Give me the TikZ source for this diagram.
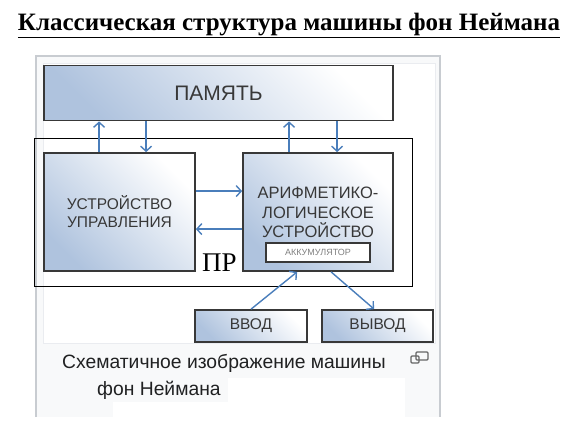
\documentclass[tikz,border=0pt]{standalone}
\usepackage{fontspec}
\setmainfont{Liberation Serif}
\setsansfont{Liberation Sans}
\usepackage{tikz}
\usetikzlibrary{arrows.meta,positioning}
\definecolor{sinij}{HTML}{4A7EBB}
\definecolor{goluboj}{HTML}{AFC3DE}
\definecolor{ramka}{HTML}{C8CCD1}
\definecolor{ramkasvetlaja}{HTML}{EAECF0}
\definecolor{fon}{HTML}{F8F9FA}
\definecolor{tekst}{HTML}{202122}
\definecolor{kontur}{HTML}{383838}
\tikzset{
  blok/.style={draw=kontur,line width=1.8pt,top color=white,bottom color=goluboj,shading angle=-45,align=center,inner sep=0pt,font=\sffamily\fontsize{15.5pt}{18pt}\selectfont,text=kontur},
  blokmalyj/.style={draw=kontur,line width=1.6pt,fill=white,inner sep=0pt,font=\sffamily\fontsize{9pt}{9pt}\selectfont,text=gray},
  ramkaproc/.style={draw=black,line width=1pt,inner sep=0pt},
  strelka/.style={-{Straight Barb[length=5pt,width=11pt]},line width=1.4pt,sinij},
  podpis/.style={font=\sffamily\fontsize{19.3pt}{19.3pt}\selectfont,text=tekst,anchor=base west,inner sep=0pt},
}

\begin{document}
\begin{tikzpicture}[x=1pt,y=-1pt]
  \useasboundingbox (0,0) rectangle (580,434);
  % рамка миниатюры
  \fill[fon] (36,56) rectangle (440,417);
  \fill[white] (228,378) rectangle (405,417);
  \fill[white] (113,402) rectangle (405,417);
  \draw[ramka,line width=1.5pt] (36,417) -- (36,56) -- (440,56) -- (440,417);
  \draw[ramkasvetlaja,fill=white,line width=1pt] (43,63) rectangle (435,343);
  % заголовок
  \node[anchor=base,inner sep=0pt,font=\bfseries\fontsize{25pt}{25pt}\selectfont] (zagolovok) at (289,30) {\underline{Классическая структура машины фон Неймана}};
  % блоки
  \node[ramkaproc,minimum width=378pt,minimum height=148pt] (processor) at (223,212) {};
  \node[blok,minimum width=349pt,minimum height=55pt,font=\sffamily\fontsize{21pt}{21pt}\selectfont] (pamyat) at (218.5,93) {ПАМЯТЬ};
  \node[blok,minimum width=151pt,minimum height=118pt] (uu) at (119.5,212) {УСТРОЙСТВО\\УПРАВЛЕНИЯ};
  \node[blok,minimum width=150pt,minimum height=118pt] (alu) at (318,212) {};
  \node[align=center,inner sep=0pt,text=kontur,font=\sffamily\fontsize{16.5pt}{19.5pt}\selectfont] (alutekst) at (318,212.5) {АРИФМЕТИКО-\\ЛОГИЧЕСКОЕ\\УСТРОЙСТВО};
  \node[blokmalyj,minimum width=104pt,minimum height=19pt] (akk) at (318,252.5) {АККУМУЛЯТОР};
  \node[blok,minimum width=112pt,minimum height=32pt] (vvod) at (251,326) {ВВОД};
  \node[blok,minimum width=111pt,minimum height=32pt] (vyvod) at (377.5,326) {ВЫВОД};
  \node[anchor=base west,inner sep=0pt,font=\rmfamily\fontsize{27pt}{27pt}\selectfont] (pr) at (202,271) {ПР};
  % связи
  \draw[strelka] ([xshift=56pt]uu.north west) -- ([xshift=56pt]uu.north west |- pamyat.south);
  \draw[strelka] ([xshift=103pt]uu.north west |- pamyat.south) -- ([xshift=103pt]uu.north west);
  \draw[strelka] ([xshift=47pt]alu.north west) -- ([xshift=47pt]alu.north west |- pamyat.south);
  \draw[strelka] ([xshift=95pt]alu.north west |- pamyat.south) -- ([xshift=95pt]alu.north west);
  \draw[strelka] ([yshift=-39pt]uu.north east) -- ([yshift=-39pt]uu.north east -| alu.west);
  \draw[strelka] ([yshift=-77pt]alu.north west) -- ([yshift=-77pt]alu.north west -| uu.east);
  \draw[strelka] ([xshift=57pt]vvod.north west) -- ([xshift=55pt]alu.south west);
  \draw[strelka] ([xshift=89pt]alu.south west) -- ([xshift=53pt]vyvod.north west);
  % подпись
  \node[podpis] (podpis1) at (62,368) {Схематичное изображение машины};
  \node[podpis] (podpis2) at (97,395) {фон Неймана};
  \draw[gray!80!black,line width=1.2pt,rounded corners=1pt,fill=fon] (416,352) rectangle (428,360);
  \draw[gray!80!black,line width=1.2pt,rounded corners=1pt] (411,356) rectangle (419,363);
\end{tikzpicture}
\end{document}
